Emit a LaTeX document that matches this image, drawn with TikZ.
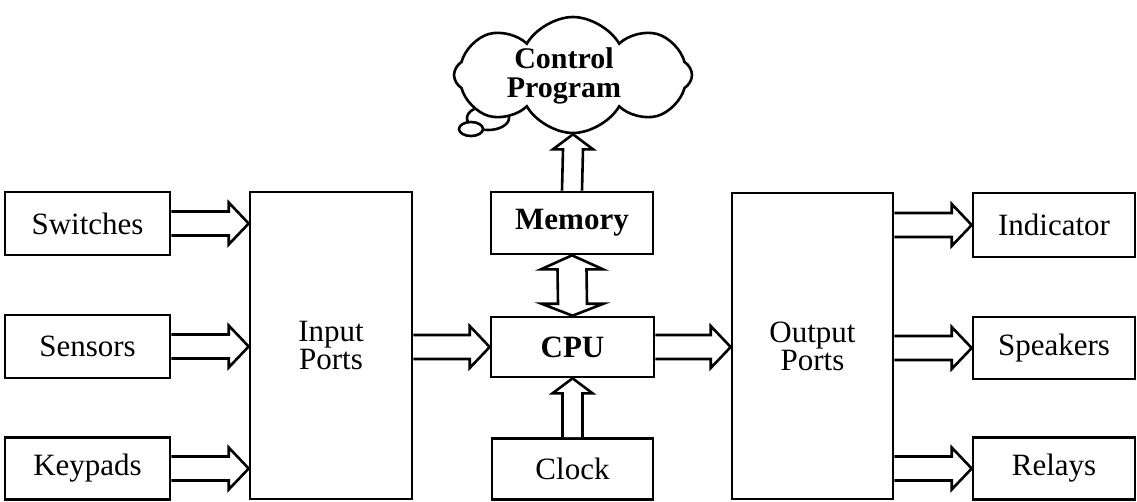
\documentclass[tikz,border=0pt]{standalone}
\usepackage{fontspec}
\setmainfont{Liberation Serif}
\usetikzlibrary{calc,shapes.symbols}
\tikzset{
  box/.style={draw, line width=2.6pt, inner sep=0pt, align=center,
    font=\fontsize{31}{28}\selectfont},
  blk/.style={draw, line width=2.6pt, line join=miter, fill=white},
  cloudtxt/.style={font=\fontsize{30}{28.5}\selectfont\bfseries, align=center, inner sep=0pt}
}
% horizontal hollow arrow, start #1, tip #2
\newcommand\ArR[2]{\draw[blk] ($(#1)+(0,-12)$) -- ($(#2)+(-20,-12)$) -- ($(#2)+(-20,-21)$) -- (#2) -- ($(#2)+(-20,21)$) -- ($(#2)+(-20,12)$) -- ($(#1)+(0,12)$);}
% vertical upward hollow arrow, start #1 (bottom), tip #2 (top)
\newcommand\ArU[2]{\draw[blk] ($(#1)+(-10,0)$) -- ($(#2)+(-10,15)$) -- ($(#2)+(-20,15)$) -- (#2) -- ($(#2)+(20,15)$) -- ($(#2)+(10,15)$) -- ($(#1)+(10,0)$);}
% vertical double hollow arrow, top tip #1, bottom tip #2
\newcommand\ArD[2]{\draw[blk] (#1) -- ($(#1)+(31,14)$) -- ($(#1)+(14.5,14)$) -- ($(#2)+(14.5,-12)$) -- ($(#2)+(31,-12)$) -- (#2) -- ($(#2)+(-31,-12)$) -- ($(#2)+(-14.5,-12)$) -- ($(#1)+(-14.5,14)$) -- ($(#1)+(-31,14)$) -- cycle;}
\begin{document}
\begin{tikzpicture}[x=1pt,y=-1pt]
\useasboundingbox (0,0) rectangle (1137,501);
% left column
\node[box, minimum width=165pt, minimum height=63pt] (sw) at (87.5,223.5) {Switches};
\node[box, minimum width=165pt, minimum height=63pt] (se) at (87.5,346.5) {Sensors};
\node[box, minimum width=165pt, minimum height=62pt] (kp) at (87.5,468.5) {Keypads};
% input ports
\node[box, minimum width=162pt, minimum height=307pt] (in) at (331,345.5) {Input\\Ports};
% middle column
\node[box, minimum width=162pt, minimum height=62pt, font=\fontsize{31}{28}\selectfont\bfseries] (mem) at (572,223) {Memory};
\node[box, minimum width=163pt, minimum height=60pt, font=\fontsize{31}{28}\selectfont\bfseries] (cpu) at (572.5,347) {CPU};
\node[box, minimum width=161pt, minimum height=61pt] (clk) at (572.5,469) {Clock};
% output ports
\node[box, minimum width=161pt, minimum height=306pt] (out) at (812.5,346) {Output\\Ports};
% right column
\node[box, minimum width=162pt, minimum height=64pt] (ind) at (1054,225) {Indicator};
\node[box, minimum width=162pt, minimum height=62pt] (spk) at (1054,348) {Speakers};
\node[box, minimum width=162pt, minimum height=62pt] (rel) at (1054,468.5) {Relays};
% thought cloud
\draw[line width=2.6pt, fill=white] (488,118) ellipse [x radius=21, y radius=12];
\node[cloud, draw, line width=2.6pt, fill=white, cloud puffs=8, cloud puff arc=120, aspect=2,
  minimum width=238pt, minimum height=116pt, inner sep=0pt] (cl) at (573,75) {};
\draw[line width=2.6pt, fill=white] (471,129) ellipse [x radius=12, y radius=7];
\node[cloudtxt] (ct) at (564,76) {Control\\Program};
% connector points
\coordinate (a1) at (sw.east -| in.west);
\coordinate (a2) at (se.east -| in.west);
\coordinate (a3) at (kp.east -| in.west);
\coordinate (b1) at (cpu.west -| in.east);
\coordinate (c1) at (cpu.east -| out.west);
\coordinate (d1) at (out.east |- ind.west);
\coordinate (d2) at (out.east |- spk.west);
\coordinate (d3) at (out.east |- rel.west);
% arrows
\ArR{sw.east}{a1}
\ArR{se.east}{a2}
\ArR{kp.east}{a3}
\ArR{b1}{cpu.west}
\ArR{cpu.east}{c1}
\ArR{d1}{ind.west}
\ArR{d2}{spk.west}
\ArR{d3}{rel.west}
\ArU{clk.north}{cpu.south}
\ArU{mem.north}{cl.south}
\ArD{mem.south}{cpu.north}
\end{tikzpicture}
\end{document}
